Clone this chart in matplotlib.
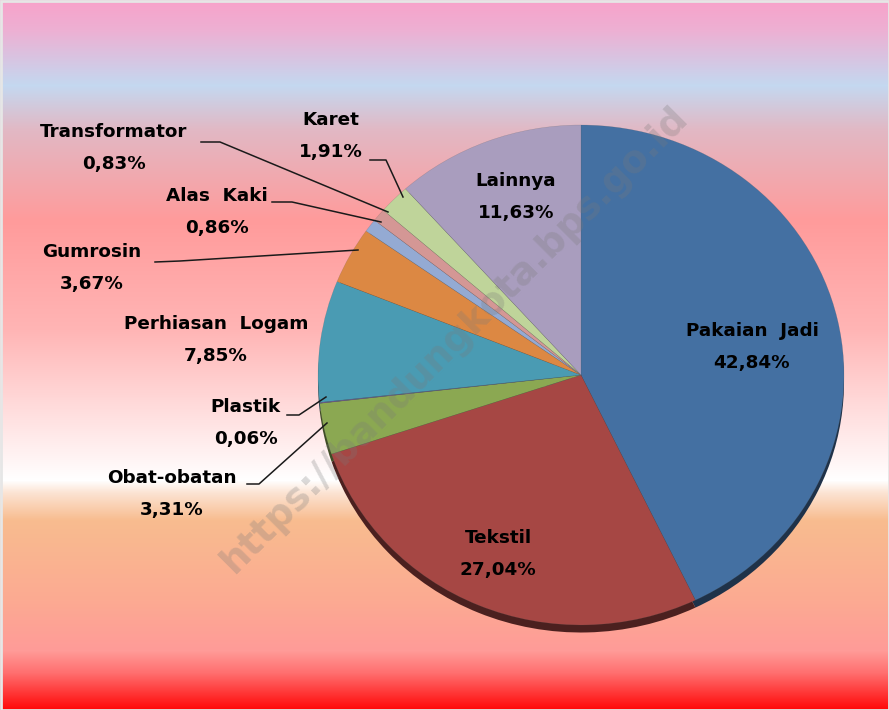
import matplotlib

matplotlib.use("Agg")
import matplotlib.pyplot as plt
import numpy as np
from matplotlib.colors import to_rgb

W, H = 889, 710

# data: clockwise from 12 o'clock
labels = ["Pakaian  Jadi", "Tekstil", "Obat-obatan", "Plastik", "Perhiasan  Logam",
          "Gumrosin", "Alas  Kaki", "Transformator", "Karet", "Lainnya"]
shares = [42.84, 27.04, 3.31, 0.06, 7.85, 3.67, 0.86, 0.83, 1.91, 11.63]
colors = ["#4470A2", "#A64744", "#8BA852", "#7A5C97", "#4A9BB3",
          "#DC8843", "#94AAD3", "#D49795", "#BFD49A", "#A99DBE"]

# label anchor (pixel centre of the name line) and leader line points
label_pos = {
    "Pakaian  Jadi": (752, 331), "Tekstil": (498, 538), "Obat-obatan": (172, 478),
    "Plastik": (246, 407), "Perhiasan  Logam": (216, 324), "Gumrosin": (92, 252),
    "Alas  Kaki": (217, 196), "Transformator": (114, 132), "Karet": (331, 120),
    "Lainnya": (516, 181),
}
leaders = {
    "Obat-obatan": [(247, 484), (259, 484), (327, 423)],
    "Plastik": [(287, 415), (299, 415), (326, 397)],
    "Gumrosin": [(155, 262), (180, 261), (358, 250)],
    "Alas  Kaki": [(272, 202), (292, 202), (381, 222)],
    "Transformator": [(201, 142), (220, 142), (388, 212)],
    "Karet": [(370, 160), (386, 160), (403, 197)],
}

# background gradient stops (pixel y from top, colour)
bg_y = [0, 30, 85, 130, 220, 330, 420, 480, 492, 520, 600, 650, 672, 710]
bg_c = ["#F8A2CA", "#EDB0D3", "#C4D8F0", "#E2B8C4", "#FF9B9B", "#FFB5B5", "#FFE2E2",
        "#FFFFFF", "#FCE4D4", "#F8BC8F", "#FCAA92", "#FF9B98", "#FF7070", "#FF0505"]

fig = plt.figure(figsize=(W / 100, H / 100), dpi=100)

bg = fig.add_axes([0, 0, 1, 1])
ys = np.arange(H)
rgb = np.array([to_rgb(c) for c in bg_c])
grad = np.stack([np.interp(ys, bg_y, rgb[:, k]) for k in range(3)], axis=-1)
bg.imshow(grad[:, None, :], aspect="auto", extent=[0, W, H, 0])
bg.set_xlim(0, W)
bg.set_ylim(H, 0)
bg.axis("off")

# pie in its own axes (slightly elliptical like the Excel 3-D tilt)
cx, cy, rx, ry = 581, 375, 263, 250
lo = -1.035
pie_ax = fig.add_axes([(cx - rx) / W, (H - cy + lo * ry) / H, 2 * rx / W, (1 - lo) * ry / H])
shadow = [tuple(np.array(to_rgb(c)) * 0.45) for c in colors]
pie_ax.pie(shares, colors=shadow, startangle=90, counterclock=False, radius=1.0,
           center=(0, -0.03), wedgeprops=dict(linewidth=0))
pie_ax.pie(shares, colors=colors, startangle=90, counterclock=False, radius=1.0,
           wedgeprops=dict(linewidth=0.3, edgecolor="#55555555"))
pie_ax.set_aspect("auto")
pie_ax.set_xlim(-1, 1)
pie_ax.set_ylim(lo, 1)
pie_ax.axis("off")

ov = fig.add_axes([0, 0, 1, 1])
ov.set_xlim(0, W)
ov.set_ylim(H, 0)
ov.axis("off")

ov.text(455, 340, "https://bandungkota.bps.go.id", rotation=45, ha="center", va="center",
        fontsize=27, fontweight="bold", color="#7a7a7a", alpha=0.28)

for name, v in zip(labels, shares):
    x, y = label_pos[name]
    ov.text(x, y, name, ha="center", va="center", fontsize=13.2, fontweight="bold",
            color="black")
    ov.text(x, y + 32, f"{v:.2f}".replace(".", ",") + "%", ha="center", va="center",
            fontsize=13.2, fontweight="bold", color="black")

for name, pts in leaders.items():
    xs, ys_ = zip(*pts)
    ov.plot(xs, ys_, color="#1a1a1a", lw=1.1)

ov.add_patch(plt.Rectangle((0.5, 0.5), W - 1, H - 1, fill=False, ec="#e6e6e6", lw=2))

fig.savefig("out.png", dpi=100)
